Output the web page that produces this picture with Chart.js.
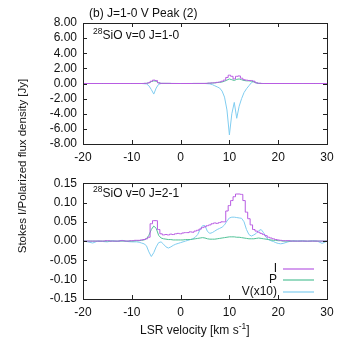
<!DOCTYPE html>
<html>
<head>
<meta charset="utf-8">
<script src="https://cdn.jsdelivr.net/npm/chart.js@4"></script>
<style>
  body { margin: 0; background: #fff; width: 354px; height: 341px; position: relative; overflow: hidden; font-family: "Liberation Sans", Arial, sans-serif; color: #111; }
  canvas { position: absolute; left: 0; }
  .txt { position: absolute; white-space: nowrap; font-size: 12px; line-height: 14px; }
  .txt sup { font-size: 8.5px; vertical-align: 5px; line-height: 0; }
  #ytitle { transform: rotate(-90deg); transform-origin: center center; font-size: 11.5px; }
</style>
</head>
<body>
<canvas id="topChart" width="354" height="170" style="top:0"></canvas>
<canvas id="botChart" width="354" height="171" style="top:170px"></canvas>

<div class="txt" style="left:89px; top:6px;">(b) J=1-0 V Peak (2)</div>
<div class="txt" style="left:93px; top:28px;"><sup>28</sup>SiO v=0 J=1-0</div>
<div class="txt" style="left:93px; top:186px;"><sup>28</sup>SiO v=0 J=2-1</div>
<div class="txt" style="left:140px; top:323px;">LSR velocity [km s<sup>-1</sup>]</div>
<div class="txt" id="ytitle" style="left:-78px; top:159px; width:200px; text-align:center;">Stokes I/Polarized flux density [Jy]</div>

<script>
// J=1-0 panel
let topVel = [-20, -12, -8, -7, -6.5, -6, -5.5, -5, -4.5, -4,
    0, 5, 6, 6.5, 7, 7.5, 8, 8.5, 9, 9.5,
    10, 10.5, 11, 11.5, 12, 12.5, 13, 13.5, 14, 14.5,
    15, 15.5, 16, 17, 25, 30];
let topI = [0, 0, 0, 0.02, 0.1, 0.3, 0.45, 0.4, 0.1, 0.02,
    0, 0.01, 0.05, 0.08, 0.1, 0.15, 0.2, 0.3, 0.45, 0.8,
    1.1, 0.95, 0.6, 0.95, 1.0, 0.7, 0.5, 0.45, 0.4, 0.4,
    0.3, 0.1, 0.03, 0, 0, 0];
let topP = [0, 0, 0, 0.02, 0.08, 0.25, 0.35, 0.3, 0.08, 0.02,
    0, 0.01, 0.04, 0.06, 0.08, 0.12, 0.15, 0.2, 0.3, 0.45,
    0.6, 0.5, 0.4, 0.55, 0.6, 0.5, 0.4, 0.35, 0.35, 0.3,
    0.2, 0.08, 0.02, 0, 0, 0];
let topV = [0, 0, 0, -0.05, -0.3, -0.8, -1.4, -0.6, -0.1, 0,
    0, 0, -0.05, -0.15, -0.3, -0.45, -0.6, -1.0, -1.8, -3.5,
    -6.8, -4.0, -2.5, -4.6, -3.0, -2.0, -1.2, -0.7, -0.3, 0.1,
    0.3, 0.1, 0, 0, 0, 0];

// J=2-1 panel
let botVel = [-20, -19, -18, -17, -16, -15, -14, -13, -12, -11, -10, -9,
    -8.5, -8, -7.5, -7, -6.5, -6, -5.5, -5, -4.5, -4,
    -3.5, -3, -2.5, -2, -1.5, -1, -0.5, 0, 0.5, 1,
    1.5, 2, 2.5, 3, 3.5, 4, 4.5, 5, 5.5, 6,
    6.5, 7, 7.5, 8, 8.5, 9, 9.5, 10, 10.5, 11,
    11.5, 12, 12.5, 13, 13.5, 14, 14.5, 15, 15.5, 16,
    16.5, 17, 17.5, 18, 18.5, 19, 19.5, 20, 20.5, 21,
    22, 23, 24, 25, 26, 27, 28, 29, 30];
let botI = [0, 0, 0, 0, 0, 0.001, 0, 0, 0.001, 0, 0.001, 0.002,
    0.002, 0.003, 0.004, 0.006, 0.01, 0.045, 0.053, 0.053, 0.03, 0.019,
    0.016, 0.017, 0.016, 0.018, 0.017, 0.019, 0.02, 0.019, 0.021, 0.022,
    0.022, 0.024, 0.023, 0.026, 0.028, 0.031, 0.035, 0.037, 0.04, 0.042,
    0.045, 0.047, 0.046, 0.048, 0.05, 0.05, 0.078, 0.092, 0.105, 0.115,
    0.122, 0.122, 0.121, 0.105, 0.075, 0.058, 0.042, 0.03, 0.026, 0.023,
    0.02, 0.017, 0.014, 0.01, 0.008, 0.006, 0.004, 0.003, 0.002, 0.001,
    0.001, 0, 0, 0, 0, 0, 0, 0, 0];
let botP = [0, 0, 0, 0, 0, 0, 0, 0, 0, 0, 0, 0.001,
    0.001, 0.002, 0.003, 0.006, 0.015, 0.03, 0.039, 0.033, 0.015, 0.008,
    0.006, 0.005, 0.004, 0.004, 0.003, 0.003, 0.003, 0.003, 0.003, 0.004,
    0.004, 0.004, 0.005, 0.006, 0.007, 0.008, 0.009, 0.008, 0.006, 0.005,
    0.005, 0.005, 0.006, 0.007, 0.008, 0.009, 0.01, 0.011, 0.011, 0.011,
    0.01, 0.01, 0.009, 0.008, 0.007, 0.006, 0.006, 0.006, 0.007, 0.008,
    0.007, 0.006, 0.005, 0.004, 0.003, 0.002, 0.002, 0.001, 0.001, 0,
    0, 0, 0, 0, 0, 0, 0, 0, 0];
let botV = [0, -0.002, -0.005, 0, -0.001, -0.002, 0.001, -0.001, 0.002, -0.001, -0.002, -0.002,
    -0.003, -0.005, -0.007, -0.012, -0.028, -0.04, -0.03, -0.015, -0.004, -0.002,
    -0.008, -0.015, -0.018, -0.015, -0.011, -0.008, -0.006, -0.004, -0.002, 0,
    0.002, 0.004, 0.006, 0.01, 0.017, 0.03, 0.04, 0.04, 0.025, 0.02,
    0.022, 0.026, 0.03, 0.033, 0.036, 0.042, 0.052, 0.06, 0.062, 0.062,
    0.061, 0.06, 0.059, 0.05, 0.03, 0.017, 0.013, 0.016, 0.02, 0.027,
    0.03, 0.022, 0.01, 0.004, 0.001, -0.001, -0.004, -0.006, -0.007, -0.006,
    -0.002, 0.001, 0, 0.001, -0.001, 0.001, 0, -0.006, 0];

let seriesLabels = ['I', 'P', 'V(x10)'];
let seriesColors = ['#b85ce2', '#52c297', '#80cdf0'];

function toPoints(xs, ys) {
    return xs.map(function (x, i) { return { x: x, y: ys[i] }; });
}

// gnuplot-like frame with inward ticks on all four sides
let framePlugin = {
    id: 'frame',
    afterDraw: function (chart) {
        let ctx = chart.ctx;
        let a = chart.chartArea;
        let xs = chart.scales.x;
        let ys = chart.scales.y;
        ctx.save();
        ctx.strokeStyle = '#222';
        ctx.lineWidth = 1;
        ctx.beginPath();
        xs.ticks.forEach(function (t) {
            let px = Math.round(xs.getPixelForValue(t.value)) + 0.5;
            ctx.moveTo(px, a.bottom); ctx.lineTo(px, a.bottom - 4);
            ctx.moveTo(px, a.top); ctx.lineTo(px, a.top + 4);
        });
        ys.ticks.forEach(function (t) {
            let py = Math.round(ys.getPixelForValue(t.value)) + 0.5;
            ctx.moveTo(a.left, py); ctx.lineTo(a.left + 4, py);
            ctx.moveTo(a.right, py); ctx.lineTo(a.right - 4, py);
        });
        ctx.stroke();
        ctx.strokeRect(Math.round(a.left) + 0.5, Math.round(a.top) + 0.5,
            Math.round(a.right - a.left), Math.round(a.bottom - a.top));
        ctx.restore();
    }
};

// key in the lower right: label then line sample
let keyPlugin = {
    id: 'key',
    afterDraw: function (chart) {
        let ctx = chart.ctx;
        let a = chart.chartArea;
        let rows = [a.bottom - 30, a.bottom - 19, a.bottom - 7];
        ctx.save();
        ctx.font = '12px "Liberation Sans", Arial, sans-serif';
        ctx.textAlign = 'right';
        ctx.textBaseline = 'middle';
        chart.data.datasets.forEach(function (ds, i) {
            ctx.fillStyle = '#111';
            ctx.fillText(ds.label, a.right - 50, rows[i]);
            ctx.strokeStyle = ds.borderColor;
            ctx.lineWidth = 1.2;
            ctx.beginPath();
            ctx.moveTo(a.right - 44, rows[i]);
            ctx.lineTo(a.right - 13, rows[i]);
            ctx.stroke();
        });
        ctx.restore();
    }
};

function makeChart(id, vel, sI, sP, sV, yMin, yMax, yStep, padTop, xHeight, plugins) {
    let ctx = document.getElementById(id).getContext('2d');
    let sets = [sI, sP, sV];
    return new Chart(ctx, {
        type: 'line',
        data: {
            datasets: sets.map(function (s, i) {
                return {
                    label: seriesLabels[i],
                    data: toPoints(vel, s),
                    borderColor: seriesColors[i],
                    borderWidth: 1,
                    pointRadius: 0,
                    fill: false,
                    tension: 0,
                    stepped: i === 0 ? 'middle' : false
                };
            })
        },
        options: {
            responsive: false,
            animation: false,
            layout: { padding: { top: padTop, right: 27, left: 0, bottom: 0 } },
            plugins: { legend: { display: false }, tooltip: { enabled: false } },
            scales: {
                x: {
                    type: 'linear',
                    min: -20, max: 30,
                    ticks: { stepSize: 10, padding: 6, autoSkip: false, color: '#111', font: { size: 12, family: '"Liberation Sans", Arial, sans-serif' }, maxRotation: 0 },
                    grid: { display: false, drawTicks: false },
                    border: { display: false },
                    afterFit: function (s) { s.height = xHeight; }
                },
                y: {
                    min: yMin, max: yMax,
                    ticks: {
                        stepSize: yStep, padding: 6, autoSkip: false, color: '#111',
                        font: { size: 12, family: '"Liberation Sans", Arial, sans-serif' },
                        callback: function (v) { return v.toFixed(2); }
                    },
                    grid: { display: false, drawTicks: false },
                    border: { display: false },
                    afterFit: function (s) { s.width = 83; }
                }
            }
        },
        plugins: plugins
    });
}

document.addEventListener('DOMContentLoaded', function () {
    makeChart('topChart', topVel, topI, topP, topV, -8, 8, 2, 23, 26, [framePlugin]);
    makeChart('botChart', botVel, botI, botP, botV, -0.15, 0.15, 0.05, 8, 42, [framePlugin, keyPlugin]);
});
</script>
</body>
</html>
